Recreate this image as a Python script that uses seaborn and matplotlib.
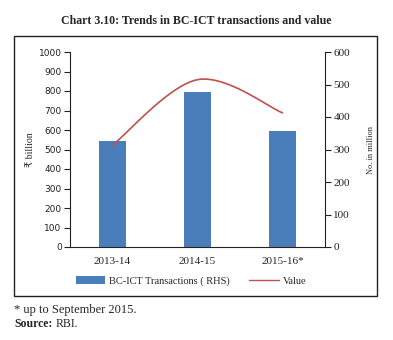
import numpy as np
import pandas as pd
import matplotlib
matplotlib.use("Agg")
import matplotlib.pyplot as plt
import seaborn as sns
from matplotlib.patches import Rectangle, Patch
from matplotlib.lines import Line2D

categories = ["2013-14", "2014-15", "2015-16*"]
transactions = [327, 477, 358]   # No. in million (RHS)
value = [522, 858, 688]          # ₹ billion (LHS)
left_ticks = [0, 100, 200, 300, 400, 500, 600, 700, 800, 900, 1000]
right_ticks = [0, 100, 200, 300, 400, 500, 600]

BLUE = "#4A7EBB"
RED = "#C0504D"
SERIF = ["Liberation Serif", "DejaVu Sans"]

sns.set_style("white")
plt.rcParams["font.family"] = ["DejaVu Sans"]

fig = plt.figure(figsize=(3.93, 3.40), dpi=100)

# outer frame
fig.patches.append(Rectangle((14/393, 1-296/340), (377-14)/393, (296-36)/340,
                             transform=fig.transFigure, fill=False, lw=1.0,
                             edgecolor="#222222"))

ax = fig.add_axes([70/393, 1-247/340, 255/393, 195/340])
ax2 = ax.twinx()

df = pd.DataFrame({"cat": categories, "tx": transactions})
sns.barplot(data=df, x="cat", y="tx", ax=ax2, color=BLUE, width=0.32,
            saturation=1, edgecolor="none")

# smoothed line (spreadsheet-style Bezier smoothing through the points)
xs = np.arange(len(value), dtype=float)
ys = np.array(value, dtype=float)
pts = np.column_stack([xs, ys])
curve = []
n = len(pts)
for i in range(n - 1):
    p0 = pts[i - 1] if i > 0 else pts[i]
    p1, p2 = pts[i], pts[i + 1]
    p3 = pts[i + 2] if i + 2 < n else pts[i + 1]
    c1 = p1 + (p2 - p0) / 6
    c2 = p2 - (p3 - p1) / 6
    for t in np.linspace(0, 1, 40):
        b = ((1-t)**3)*p1 + 3*((1-t)**2)*t*c1 + 3*(1-t)*t*t*c2 + t**3*p2
        curve.append(b)
curve = np.array(curve)
sns.lineplot(x=curve[:, 0], y=curve[:, 1], ax=ax, color=RED, lw=1.2,
             sort=False, estimator=None)

ax.set_ylim(0, 1000)
ax2.set_ylim(0, 600)
ax.set_xlim(-0.5, 2.5)
ax2.set_xlim(-0.5, 2.5)
ax.set_zorder(ax2.get_zorder() + 1)
ax.patch.set_visible(False)

ax.set_yticks(left_ticks)
ax.set_yticklabels([str(v) for v in left_ticks], fontsize=6.5)
ax2.set_yticks(right_ticks)
ax2.set_yticklabels([str(v) for v in right_ticks], fontsize=8, family=SERIF)

ax.set_xticks([-0.5, 0.5, 1.5, 2.5])
ax.set_xticklabels([])
ax2.set_xticks([-0.5, 0.5, 1.5, 2.5])
ax2.set_xticklabels([])
ax2.set_xlabel("")
ax2.set_ylabel("")
for i, c in enumerate(categories):
    ax.text(i, -0.05, c, transform=ax.get_xaxis_transform(), ha="center",
            va="top", fontsize=8, family=SERIF)

for a in (ax, ax2):
    a.spines["top"].set_visible(False)
    a.tick_params(direction="out", length=4, width=0.8, colors="#222222",
                  pad=2)
ax.spines["right"].set_visible(False)
ax2.spines["left"].set_visible(False)
ax2.spines["bottom"].set_visible(False)
ax.spines["left"].set_color("#222222")
ax.spines["bottom"].set_color("#222222")
ax2.spines["right"].set_color("#222222")

ax.set_ylabel("₹ billion", family=SERIF, fontsize=7)
ax.yaxis.set_label_coords((35 - 70) / 255, 0.5)
ax2.set_ylabel("No. in million", family=SERIF, fontsize=6)
ax2.yaxis.set_label_coords((367 - 70) / 255, 0.5)

fig.text(0.5, 1-21/340, "Chart 3.10: Trends in BC-ICT transactions and value",
         ha="center", va="center", fontsize=8.6, fontweight="bold", family=SERIF)

handles = [Patch(facecolor=BLUE, edgecolor="none"),
           Line2D([0], [0], color=RED, lw=1.0)]
fig.legend(handles, ["BC-ICT Transactions ( RHS)", "Value"],
           loc="center", bbox_to_anchor=(191/393, 1-281/340), ncol=2,
           frameon=False, prop={"family": SERIF, "size": 7.5},
           handlelength=2.8, handleheight=0.7, columnspacing=1.9,
           handletextpad=0.4)

fig.text(14/393, 1-310/340, "* up to September 2015.", fontsize=9,
         family=SERIF, va="center")
src = fig.text(14/393, 1-324/340, "Source:", fontsize=8.5, family=SERIF,
               fontweight="bold", va="center")
fig.text(0, 0, "RBI.", fontsize=8.5, family=SERIF, va="center")
fig.texts[-1].remove()
fig.canvas.draw()
bb = src.get_window_extent()
fig.text((bb.x1 + 3) / fig.bbox.width, 1-324/340, "RBI.", fontsize=8.5,
         family=SERIF, va="center")

fig.savefig("out.png", dpi=100)
